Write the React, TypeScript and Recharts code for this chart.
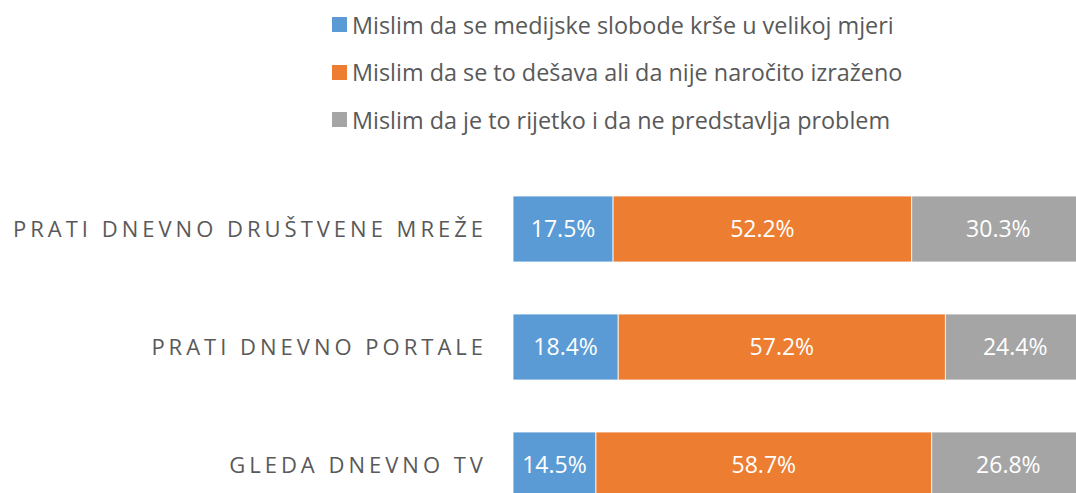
import { BarChart, Bar, XAxis, YAxis, Legend, LabelList } from "recharts";

const categories = ["PRATI DNEVNO DRUŠTVENE MREŽE", "PRATI DNEVNO PORTALE", "GLEDA DNEVNO TV"];
const krseUVelikojMjeri = [17.5, 18.4, 14.5];
const desavaAliNeIzrazeno = [52.2, 57.2, 58.7];
const rijetkoNijeProblem = [30.3, 24.4, 26.8];
const seriesNames = [
  "Mislim da se medijske slobode krše u velikoj mjeri",
  "Mislim da se to dešava ali da nije naročito izraženo",
  "Mislim da je to rijetko i da ne predstavlja problem",
];
const colors = ["#5B9BD5", "#ED7D31", "#A5A5A5"];

const data = categories.map((name, i) => ({
  name,
  a: krseUVelikojMjeri[i],
  b: desavaAliNeIzrazeno[i],
  c: rijetkoNijeProblem[i],
}));

const font = "'Open Sans', sans-serif";
const fmt = (v: any) => `${Number(v).toFixed(1)}%`;

function LegendBox() {
  return (
    <div style={{ fontFamily: font, fontSize: 23.4, color: "#595959" }}>
      {seriesNames.map((s, i) => (
        <div key={s} style={{ display: "flex", alignItems: "center", height: 47.5, whiteSpace: "nowrap" }}>
          <span style={{ display: "inline-block", width: 15, height: 15, background: colors[i], marginRight: 5 }} />
          <span>{s}</span>
        </div>
      ))}
    </div>
  );
}

export default function App() {
  const label = { fill: "#fff", fontSize: 23, fontFamily: font };
  return (
    <div style={{ position: "fixed", left: 0, top: 0, width: 1076, height: 493, overflow: "hidden", background: "#fff" }}>
      <BarChart
        width={1105}
        height={530}
        data={data}
        layout="vertical"
        margin={{ top: 170, right: 20, bottom: 6, left: 0 }}
      >
        <XAxis type="number" domain={[0, 100]} hide />
        <YAxis
          type="category"
          dataKey="name"
          width={513}
          axisLine={false}
          tickLine={false}
          tickMargin={20}
          tick={{ fill: "#595959", fontSize: 22, fontFamily: font, letterSpacing: 4 }}
        />
        <Legend
          layout="vertical"
          align="center"
          verticalAlign="middle"
          wrapperStyle={{ top: 1, left: 332 }}
          content={<LegendBox />}
        />
        <Bar dataKey="a" stackId="s" fill={colors[0]} barSize={66} stroke="#fff" strokeWidth={0.8} isAnimationActive={false}>
          <LabelList dataKey="a" position="center" formatter={fmt} style={label} />
        </Bar>
        <Bar dataKey="b" stackId="s" fill={colors[1]} barSize={66} stroke="#fff" strokeWidth={0.8} isAnimationActive={false}>
          <LabelList dataKey="b" position="center" formatter={fmt} style={label} />
        </Bar>
        <Bar dataKey="c" stackId="s" fill={colors[2]} barSize={66} stroke="#fff" strokeWidth={0.8} isAnimationActive={false}>
          <LabelList dataKey="c" position="center" formatter={fmt} style={label} />
        </Bar>
      </BarChart>
    </div>
  );
}
